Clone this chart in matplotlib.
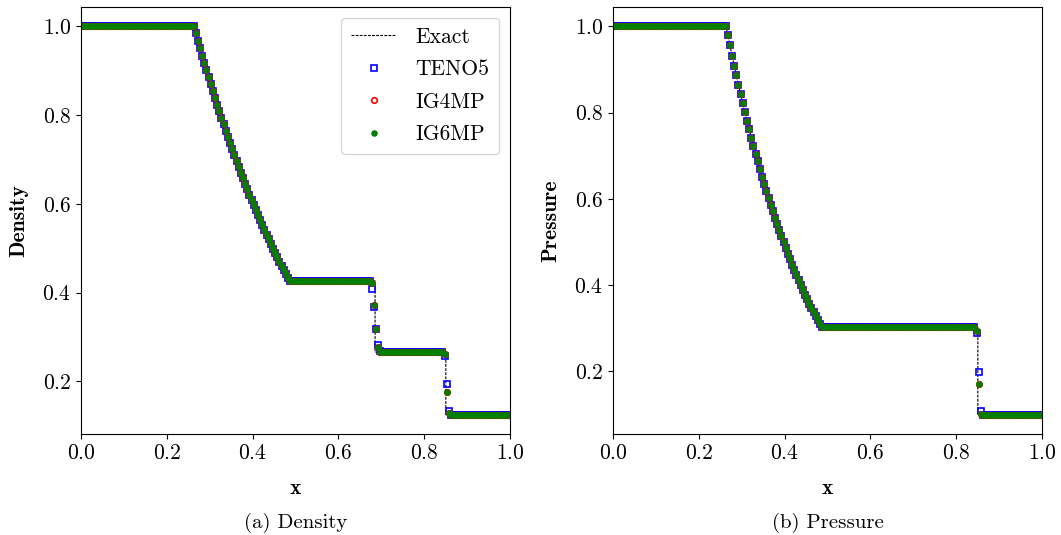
import numpy as np
import matplotlib
matplotlib.use("Agg")
import matplotlib.pyplot as plt

plt.rcParams['font.family'] = 'serif'
plt.rcParams['font.serif'] = ['cmr10']
plt.rcParams['mathtext.fontset'] = 'cm'
plt.rcParams['axes.unicode_minus'] = False
plt.rcParams['axes.formatter.use_mathtext'] = True
plt.rcParams['font.size'] = 15.5

# grid: 200 cells on [0, 1]
x_cells = np.linspace(0.0025, 0.9975, 200)

# rarefaction fan values (cells 53..96)
rare_rho = [0.9855, 0.9682, 0.9512, 0.9344, 0.9178, 0.9015, 0.8854, 0.8695,
            0.8539, 0.8385, 0.8233, 0.8084, 0.7936, 0.7791, 0.7648, 0.7507,
            0.7368, 0.7231, 0.7096, 0.6963, 0.6833, 0.6704, 0.6577, 0.6452,
            0.6329, 0.6208, 0.6088, 0.5971, 0.5855, 0.5741, 0.5629, 0.5519,
            0.5410, 0.5303, 0.5198, 0.5095, 0.4993, 0.4893, 0.4794, 0.4697,
            0.4602, 0.4508, 0.4416, 0.4325]
rare_p = [0.9797, 0.9558, 0.9323, 0.9093, 0.8868, 0.8648, 0.8433, 0.8222,
          0.8016, 0.7815, 0.7617, 0.7424, 0.7235, 0.7051, 0.6870, 0.6693,
          0.6520, 0.6351, 0.6186, 0.6025, 0.5867, 0.5713, 0.5562, 0.5414,
          0.5270, 0.5130, 0.4992, 0.4858, 0.4727, 0.4599, 0.4473, 0.4351,
          0.4232, 0.4115, 0.4001, 0.3890, 0.3782, 0.3676, 0.3573, 0.3472,
          0.3374, 0.3278, 0.3184, 0.3093]

# density
rho_teno5 = ([1.0] * 53 + rare_rho + [0.4263] * 38
             + [0.407, 0.367, 0.319, 0.281, 0.268] + [0.2656] * 29
             + [0.258, 0.195, 0.133] + [0.125] * 28)
rho_ig4mp = ([1.0] * 53 + rare_rho + [0.4255] * 38
             + [0.421, 0.373, 0.319, 0.278, 0.267] + [0.2650] * 29
             + [0.262, 0.177, 0.129] + [0.125] * 28)
rho_ig6mp = ([1.0] * 53 + rare_rho + [0.4263] * 38
             + [0.421, 0.373, 0.319, 0.278, 0.267] + [0.2656] * 29
             + [0.262, 0.177, 0.128] + [0.125] * 28)

# pressure
p_teno5 = ([1.0] * 53 + rare_p + [0.3031] * 72
           + [0.289, 0.198, 0.108] + [0.1] * 28)
p_ig4mp = ([1.0] * 53 + rare_p + [0.3025] * 72
           + [0.293, 0.170, 0.102] + [0.1] * 28)
p_ig6mp = ([1.0] * 53 + rare_p + [0.3031] * 72
           + [0.293, 0.170, 0.102] + [0.1] * 28)

# exact solution
x_exact = [0.0, 0.2634] + list(x_cells[53:97]) + [0.4860, 0.6855, 0.6855, 0.8504, 0.8504, 1.0]
rho_exact = [1.0, 1.0] + rare_rho + [0.4263, 0.4263, 0.2656, 0.2656, 0.125, 0.125]
p_exact = [1.0, 1.0] + rare_p + [0.3031, 0.3031, 0.3031, 0.3031, 0.1, 0.1]

fig = plt.figure(figsize=(10.61, 5.35), dpi=100)
ax1 = fig.add_axes([81 / 1061, 1 - 434 / 535, 429 / 1061, 427 / 535])
ax2 = fig.add_axes([613 / 1061, 1 - 434 / 535, 429 / 1061, 427 / 535])

panels = [
    (ax1, rho_exact, rho_teno5, rho_ig4mp, rho_ig6mp, 'Density', '(a) Density'),
    (ax2, p_exact, p_teno5, p_ig4mp, p_ig6mp, 'Pressure', '(b) Pressure'),
]

for ax, ex, teno, ig4, ig6, ylab, cap in panels:
    ax.plot(x_exact, ex, 'k--', lw=0.8, dashes=(2.5, 1.2), label='Exact')
    ax.plot(x_cells, teno, 's', ms=4.0, mfc='none', mec='blue', mew=1.2, label='TENO5')
    ax.plot(x_cells, ig4, 'o', ms=4.0, mfc='none', mec='red', mew=1.2, label='IG4MP')
    ax.plot(x_cells, ig6, 'o', ms=3.7, color='green', label='IG6MP')
    ax.set_xlim(0, 1)
    ax.set_xlabel('x', fontfamily='cmb10', labelpad=11)
    ax.set_ylabel(ylab, fontfamily='cmb10', labelpad=10)
    ax.set_xticks([0.0, 0.2, 0.4, 0.6, 0.8, 1.0])
    ax.set_yticks([0.2, 0.4, 0.6, 0.8, 1.0])
    bb = ax.get_position()
    fig.text(bb.x0 + bb.width / 2, 0.022, cap, ha='center', va='center', fontsize=15)

ax1.legend(loc='upper right', handlelength=2.1, handletextpad=0.9,
           labelspacing=0.6, borderpad=0.45)

fig.savefig('out.png', dpi=100)
